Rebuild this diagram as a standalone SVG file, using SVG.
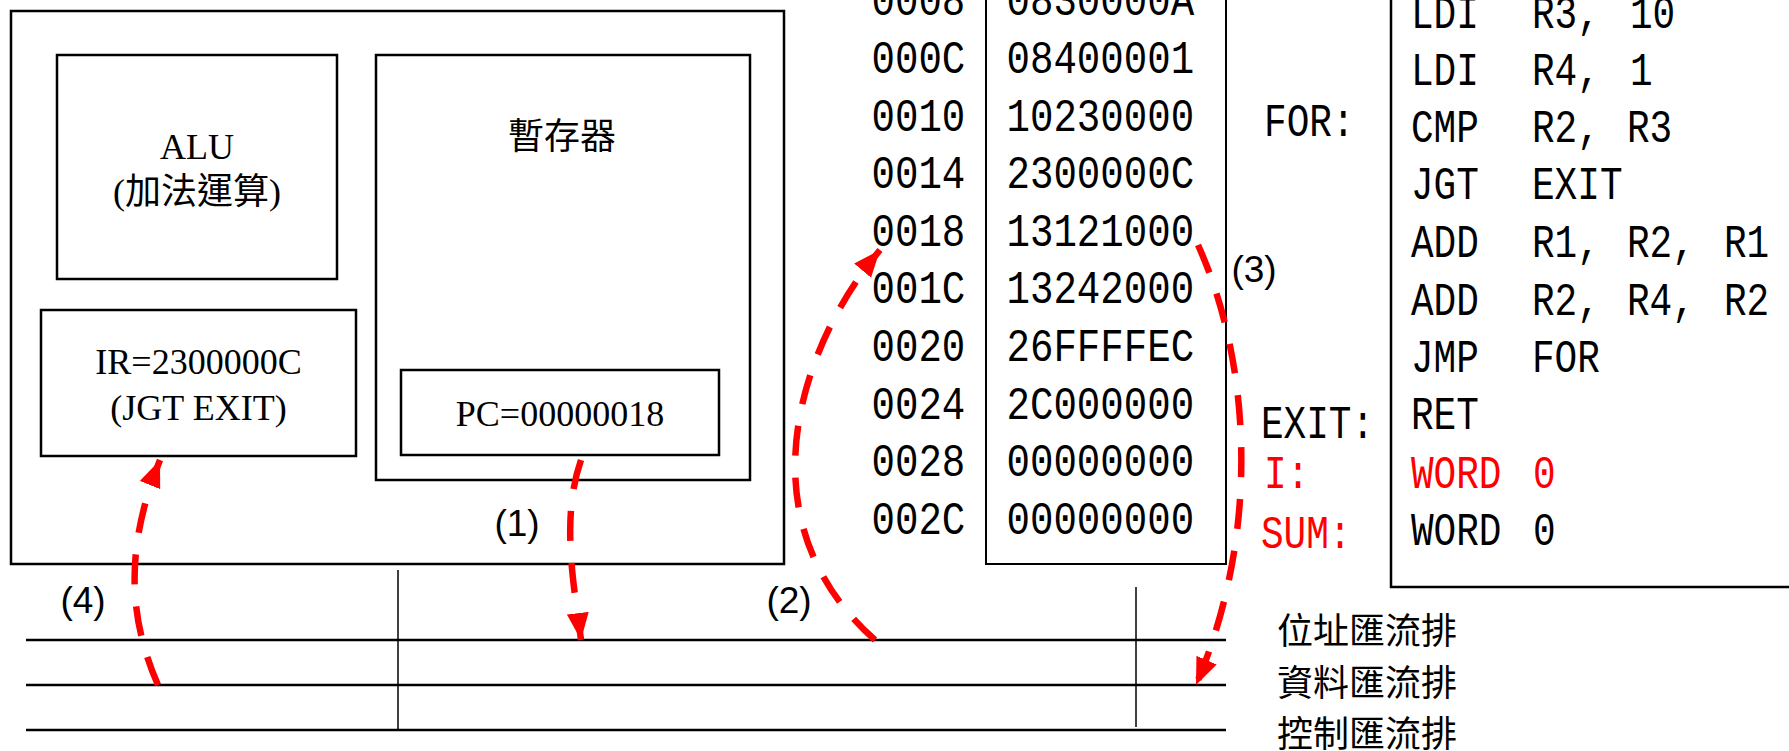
<svg xmlns="http://www.w3.org/2000/svg" width="1789" height="751" viewBox="0 0 1789 751">
<style>
.box{fill:none;stroke:#000;stroke-width:2.5}
.serif{font-family:"Liberation Serif","Noto Sans CJK TC",serif;font-size:36px;fill:#000}
.cjk{font-family:"Noto Sans CJK TC","Noto Sans CJK SC",sans-serif;font-size:36px;fill:#000}
.mono{font-family:"Liberation Mono",monospace;font-size:46px;fill:#000}
.red{fill:#FF0000}
.num{font-family:"Liberation Sans",sans-serif;font-size:37px;fill:#000;text-anchor:middle}
.bus{stroke:#000;stroke-width:2.5;fill:none}
.vbus{stroke:#000;stroke-width:1.5;fill:none}
.flow{fill:none;stroke:#FF0000;stroke-width:6.5;stroke-dasharray:30 22;marker-end:url(#ah)}
</style>
<defs>
<marker id="ah" markerUnits="userSpaceOnUse" markerWidth="28" markerHeight="24" refX="27" refY="11" orient="auto">
<path d="M0,0 L27,11 L0,22 z" fill="#FF0000"/>
</marker>
</defs>
<rect width="1789" height="751" fill="#fff"/>

<g id="cpu">
<rect class="box" x="11" y="11" width="773" height="553"/>
</g>
<g id="alu">
<rect class="box" x="57" y="55" width="280" height="224"/>
<text class="serif" x="197" y="159" text-anchor="middle">ALU</text>
<text class="serif" x="197" y="204" text-anchor="middle">(加法運算)</text>
</g>
<g id="registers">
<rect class="box" x="376" y="55" width="374" height="425"/>
<text class="cjk" x="562" y="149" text-anchor="middle">暫存器</text>
</g>
<g id="ir">
<rect class="box" x="41" y="310" width="315" height="146"/>
<text class="serif" x="198.5" y="374" text-anchor="middle">IR=2300000C</text>
<text class="serif" x="198.5" y="420" text-anchor="middle">(JGT EXIT)</text>
</g>
<g id="pc">
<rect class="box" x="401" y="370" width="318" height="85"/>
<text class="serif" x="560" y="426" text-anchor="middle">PC=00000018</text>
</g>

<g id="memory">
<rect class="box" x="986" y="-5" width="240" height="569" style="stroke-width:2"/>
<g transform="scale(0.85,1)">
<text class="mono" x="1025.3" y="15.4">0008</text>
<text class="mono" x="1025.3" y="73">000C</text>
<text class="mono" x="1025.3" y="130.6">0010</text>
<text class="mono" x="1025.3" y="188.2">0014</text>
<text class="mono" x="1025.3" y="245.8">0018</text>
<text class="mono" x="1025.3" y="303.4">001C</text>
<text class="mono" x="1025.3" y="361">0020</text>
<text class="mono" x="1025.3" y="418.6">0024</text>
<text class="mono" x="1025.3" y="476.2">0028</text>
<text class="mono" x="1025.3" y="533.8">002C</text>
<text class="mono" x="1184.1" y="15.4">0830000A</text>
<text class="mono" x="1184.1" y="73">08400001</text>
<text class="mono" x="1184.1" y="130.6">10230000</text>
<text class="mono" x="1184.1" y="188.2">2300000C</text>
<text class="mono" x="1184.1" y="245.8">13121000</text>
<text class="mono" x="1184.1" y="303.4">13242000</text>
<text class="mono" x="1184.1" y="361">26FFFFEC</text>
<text class="mono" x="1184.1" y="418.6">2C000000</text>
<text class="mono" x="1184.1" y="476.2">00000000</text>
<text class="mono" x="1184.1" y="533.8">00000000</text>
</g>
</g>

<g id="code">
<rect class="box" x="1391" y="-5" width="420" height="592"/>
<g transform="scale(0.82,1)">
<text class="mono" x="1541.5" y="136">FOR:</text>
<text class="mono" x="1537.8" y="438">EXIT:</text>
<text class="mono red" x="1541.5" y="488">I:</text>
<text class="mono red" x="1537.8" y="548">SUM:</text>
<text class="mono" y="28"><tspan x="1720.7">LDI</tspan><tspan x="1868.3">R3,</tspan><tspan x="1987.8">10</tspan></text>
<text class="mono" y="85"><tspan x="1720.7">LDI</tspan><tspan x="1868.3">R4,</tspan><tspan x="1987.8">1</tspan></text>
<text class="mono" y="142"><tspan x="1720.7">CMP</tspan><tspan x="1868.3">R2,</tspan><tspan x="1984.1">R3</tspan></text>
<text class="mono" y="199"><tspan x="1720.7">JGT</tspan><tspan x="1868.3">EXIT</tspan></text>
<text class="mono" y="257"><tspan x="1720.7">ADD</tspan><tspan x="1868.3">R1,</tspan><tspan x="1984.1">R2,</tspan><tspan x="2102.4">R1</tspan></text>
<text class="mono" y="315"><tspan x="1720.7">ADD</tspan><tspan x="1868.3">R2,</tspan><tspan x="1984.1">R4,</tspan><tspan x="2102.4">R2</tspan></text>
<text class="mono" y="372"><tspan x="1720.7">JMP</tspan><tspan x="1868.3">FOR</tspan></text>
<text class="mono" y="429"><tspan x="1720.7">RET</tspan></text>
<text class="mono red" y="488"><tspan x="1720.7">WORD</tspan><tspan x="1869.5">0</tspan></text>
<text class="mono" y="545"><tspan x="1720.7">WORD</tspan><tspan x="1869.5">0</tspan></text>
</g>
</g>

<g id="buses">
<line class="bus" x1="26" y1="640" x2="1226" y2="640"/>
<line class="bus" x1="26" y1="685" x2="1226" y2="685"/>
<line class="bus" x1="26" y1="730" x2="1226" y2="730"/>
<line class="vbus" x1="398" y1="570" x2="398" y2="730"/>
<line class="vbus" x1="1136" y1="587" x2="1136" y2="727"/>
<text class="cjk" x="1277" y="644">位址匯流排</text>
<text class="cjk" x="1277" y="696">資料匯流排</text>
<text class="cjk" x="1277" y="747">控制匯流排</text>
</g>

<g id="connectors">
<path class="flow" d="M581,460 C560,520 575,590 581,640"/>
<path class="flow" d="M875,640 C740,520 800,345 880,250"/>
<path class="flow" d="M1198,245 C1250,360 1262,530 1196,685"/>
<path class="flow" d="M158,685 C125,610 128,540 160,460"/>
<text class="num" x="517" y="536">(1)</text>
<text class="num" x="789" y="613">(2)</text>
<text class="num" x="1254" y="282">(3)</text>
<text class="num" x="83" y="613">(4)</text>
</g>
</svg>
